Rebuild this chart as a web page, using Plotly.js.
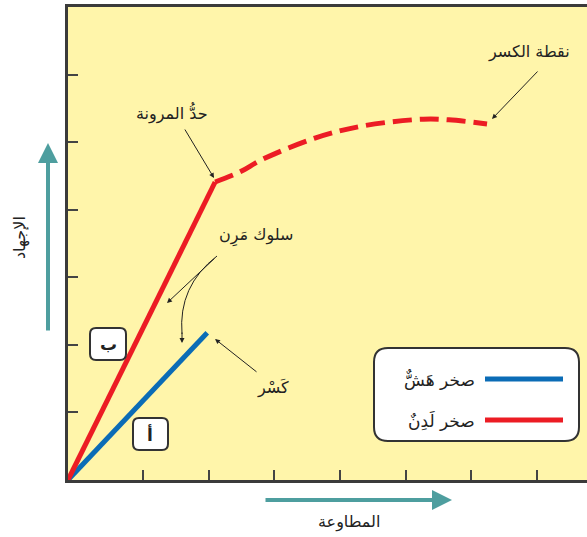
<!DOCTYPE html>
<html>
<head>
<meta charset="utf-8">
<script src="https://cdn.plot.ly/plotly-3.0.1.min.js"></script>
<style>
  html, body { margin: 0; padding: 0; overflow: hidden; background: #fff; }
</style>
</head>
<body>
<div id="chart"></div>
<script>
// brittle rock (blue) and ductile rock (red)
var brittleX = [0, 2.12];
var brittleY = [0, 2.18];
var elasticX = [0, 2.24];
var elasticY = [0, 4.41];
var plasticX = [2.24, 2.62, 2.95, 3.76, 4.49, 5.41, 5.80, 6.38];
var plasticY = [4.41, 4.56, 4.74, 5.06, 5.24, 5.34, 5.33, 5.27];

var xTicks = [1.14, 2.14, 3.14, 4.14, 5.14, 6.14, 7.14];
var yTicks = [1, 2, 3, 4, 5, 6];

var legendNames = ["صخر هَشٌّ", "صخر لَدِنٌ"];
var blue = "#0b6cb6";
var red = "#ec1c24";
var teal = "#4e9e9f";
var ink = "#222";
var font = "DejaVu Sans";

// plot area in page pixels
var L = 68, T = 7, W = 532, H = 473;
function px(x) { return (x - L) / W; }
function py(y) { return (T + H - y) / H; }

function roundRect(x0, y0, x1, y1, r) {
  function p(x, y) { return px(x) + "," + py(y); }
  return "M" + p(x0 + r, y0) + " L" + p(x1 - r, y0) + " Q" + p(x1, y0) + " " + p(x1, y0 + r) +
    " L" + p(x1, y1 - r) + " Q" + p(x1, y1) + " " + p(x1 - r, y1) +
    " L" + p(x0 + r, y1) + " Q" + p(x0, y1) + " " + p(x0, y1 - r) +
    " L" + p(x0, y0 + r) + " Q" + p(x0, y0) + " " + p(x0 + r, y0) + " Z";
}

function label(text, x, y, size, extra) {
  var a = {
    text: text, xref: "paper", yref: "paper", x: px(x), y: py(y),
    showarrow: false, font: {family: font, size: size, color: ink},
    xanchor: "center", yanchor: "middle"
  };
  for (var k in extra) a[k] = extra[k];
  return a;
}

function pointer(tipX, tipY, tailX, tailY, color, width, size) {
  return {
    text: "", xref: "paper", yref: "paper", x: px(tipX), y: py(tipY),
    ax: tailX - tipX, ay: tailY - tipY, showarrow: true,
    arrowhead: 2, arrowsize: size || 1, arrowwidth: width || 1,
    arrowcolor: color || ink
  };
}

var traces = [
  {x: brittleX, y: brittleY, mode: "lines", line: {color: blue, width: 5}, hoverinfo: "skip"},
  {x: elasticX, y: elasticY, mode: "lines", line: {color: red, width: 5}, hoverinfo: "skip"},
  {x: plasticX, y: plasticY, mode: "lines",
   line: {color: red, width: 5, dash: "19px,8px", shape: "spline", smoothing: 1}, hoverinfo: "skip"}
];

var shapes = [
  {type: "path", xref: "paper", yref: "paper", path: roundRect(374, 348, 579, 441, 14),
   fillcolor: "#fff", line: {color: "#333", width: 2}},
  {type: "line", xref: "paper", yref: "paper", x0: px(485), x1: px(563), y0: py(379), y1: py(379),
   line: {color: blue, width: 5}},
  {type: "line", xref: "paper", yref: "paper", x0: px(485), x1: px(563), y0: py(420), y1: py(420),
   line: {color: red, width: 5}},
  {type: "path", xref: "paper", yref: "paper", path: roundRect(90, 328, 126, 360, 6),
   fillcolor: "#fff", line: {color: "#333", width: 2}},
  {type: "path", xref: "paper", yref: "paper", path: roundRect(133, 418, 168, 450, 6),
   fillcolor: "#fff", line: {color: "#333", width: 2}},
  // curved pointer from "elastic behaviour" to the blue line
  {type: "path", xref: "paper", yref: "paper",
   path: "M" + px(217) + "," + py(256) + " Q" + px(178) + "," + py(286) + " " + px(182) + "," + py(334),
   line: {color: ink, width: 1}}
];

var annotations = [
  label("نقطة الكسر", 529, 52, 16),
  pointer(492, 119, 539, 70),
  label("حدُّ المرونة", 172, 113, 16),
  pointer(214, 178, 184, 128),
  label("سلوك مَرِن", 256, 236, 16),
  pointer(167, 303, 216, 257),
  pointer(182, 343, 182, 331),
  label("كَسْر", 273, 388, 16),
  pointer(215, 339, 258, 373),
  label("ب", 108, 344, 17, {font: {family: font, size: 17, color: ink, weight: "bold"}}),
  label("أ", 150, 434, 17, {font: {family: font, size: 17, color: ink, weight: "bold"}}),
  label(legendNames[0], 477, 379, 17, {xanchor: "right"}),
  label(legendNames[1], 477, 420, 17, {xanchor: "right"}),
  pointer(48, 143, 48, 332, teal, 4, 1),
  label("الإجهاد", 20, 238, 16, {textangle: -90}),
  pointer(452, 500, 264, 500, teal, 4, 1),
  label("المطاوعة", 349, 522, 16)
];

var axisStyle = {
  showgrid: false, zeroline: false, showticklabels: false,
  ticks: "inside", ticklen: 10, tickwidth: 2, tickcolor: "#444",
  showline: true, linewidth: 3, linecolor: "#3b3b3b", mirror: true,
  tickmode: "array", fixedrange: true
};

var layout = {
  width: 610, height: 537,
  margin: {l: L, r: 10, t: T, b: 537 - T - H},
  paper_bgcolor: "#fff",
  plot_bgcolor: "#fff5aa",
  showlegend: false,
  xaxis: Object.assign({}, axisStyle, {range: [0, 8.1], tickvals: xTicks}),
  yaxis: Object.assign({}, axisStyle, {range: [0, 7], tickvals: yTicks}),
  shapes: shapes,
  annotations: annotations
};

Plotly.newPlot("chart", traces, layout, {displayModeBar: false, staticPlot: true});
</script>
</body>
</html>
